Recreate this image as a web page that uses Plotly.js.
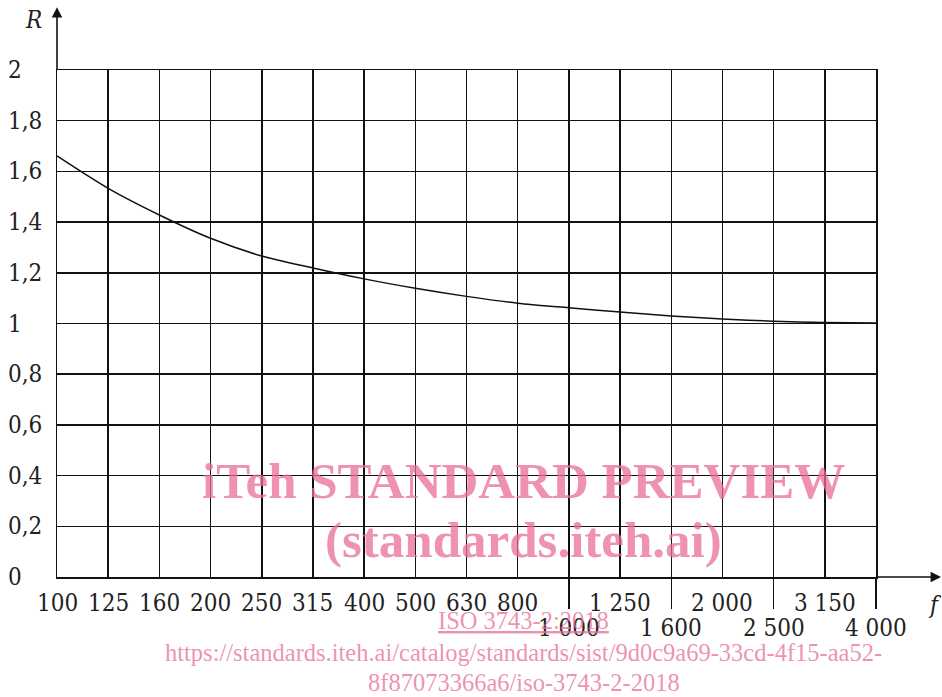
<!DOCTYPE html>
<html>
<head>
<meta charset="utf-8">
<script src="https://cdn.plot.ly/plotly-3.0.1.min.js"></script>
<style>html,body{margin:0;padding:0;background:#fff;}#chart{width:942px;height:697px;}</style>
</head>
<body>
<div id="chart"></div>
<script>
// Frequency bands (one-third octave), R values
const freqLabels = ['100','125','160','200','250','315','400','500','630','800','1 000','1 250','1 600','2 000','2 500','3 150','4 000'];
const lowerRowLabels = ['1 000','1 600','2 500','4 000'];
const rValues = [1.661, 1.533, 1.428, 1.336, 1.266, 1.219, 1.176, 1.139, 1.107, 1.080, 1.062, 1.045, 1.030, 1.018, 1.009, 1.004, 1.002];
const yTickValues = [0, 0.2, 0.4, 0.6, 0.8, 1, 1.2, 1.4, 1.6, 1.8, 2];
const yTickLabels = ['0','0,2','0,4','0,6','0,8','1','1,2','1,4','1,6','1,8','2'];
const xIndex = freqLabels.map((_, i) => i);

const FONT = 'DejaVu Serif Condensed, Liberation Serif, serif';
const FS = 24;
const PINK = 'rgba(232,110,150,0.75)';
const WFONT = 'Liberation Serif, serif';

const annotations = [];
// y tick labels (left aligned)
yTickValues.forEach((v, i) => {
  annotations.push({xref:'paper', yref:'y', x:-0.062, y:v, xanchor:'left', yanchor:'middle',
    text:yTickLabels[i], showarrow:false, font:{family:FONT, size:FS, color:'#222'}});
});
// x tick labels, staggered in two rows
freqLabels.forEach((lab, i) => {
  const lower = lowerRowLabels.includes(lab);
  annotations.push({xref:'x', yref:'paper', x:i, y: lower ? -0.1 : -0.051, xanchor:'center', yanchor:'middle',
    text:lab, showarrow:false, font:{family:FONT, size:FS, color:'#222'}});
});
// axis arrows
annotations.push({xref:'x', yref:'paper', x:0, y:1.124, axref:'pixel', ayref:'pixel', ax:0, ay:64,
  showarrow:true, arrowhead:2, arrowsize:1.3, arrowwidth:1.6, arrowcolor:'#111', text:''});
annotations.push({xref:'paper', yref:'y', x:1.082, y:0, ax:-68, ay:0,
  showarrow:true, arrowhead:2, arrowsize:1.3, arrowwidth:1.6, arrowcolor:'#111', text:''});
// axis titles
annotations.push({xref:'paper', yref:'paper', x:-0.029, y:1.098, xanchor:'center', yanchor:'middle',
  text:'<i>R</i>', showarrow:false, font:{family:FONT, size:FS, color:'#222'}});
annotations.push({xref:'paper', yref:'paper', x:1.072, y:-0.056, xanchor:'center', yanchor:'middle',
  text:'<i>f</i>', showarrow:false, font:{family:FONT, size:FS, color:'#222'}});
// watermark
annotations.push({xref:'paper', yref:'paper', x:0.570, y:0.190, xanchor:'center', yanchor:'middle',
  text:'<b>iTeh STANDARD PREVIEW</b>', showarrow:false, font:{family:WFONT, size:51, color:PINK}});
annotations.push({xref:'paper', yref:'paper', x:0.570, y:0.073, xanchor:'center', yanchor:'middle',
  text:'<b>(standards.iteh.ai)</b>', showarrow:false, font:{family:WFONT, size:51, color:PINK}});
annotations.push({xref:'paper', yref:'paper', x:0.570, y:-0.085, xanchor:'center', yanchor:'middle',
  text:'<u>ISO 3743-2:2018</u>', showarrow:false, font:{family:WFONT, size:24.5, color:PINK}});
annotations.push({xref:'paper', yref:'paper', x:0.570, y:-0.148, xanchor:'center', yanchor:'middle',
  text:'https://standards.iteh.ai/catalog/standards/sist/9d0c9a69-33cd-4f15-aa52-', showarrow:false, font:{family:WFONT, size:24.5, color:PINK}});
annotations.push({xref:'paper', yref:'paper', x:0.570, y:-0.209, xanchor:'center', yanchor:'middle',
  text:'8f87073366a6/iso-3743-2-2018', showarrow:false, font:{family:WFONT, size:24.5, color:PINK}});

const trace = {x:xIndex, y:rValues, type:'scatter', mode:'lines',
  line:{color:'#111', width:1.5, shape:'spline', smoothing:0.8}, hoverinfo:'skip'};

const layout = {
  width:942, height:697,
  margin:{l:57, r:66, t:70, b:120},
  paper_bgcolor:'#fff', plot_bgcolor:'#fff',
  showlegend:false,
  xaxis:{range:[0,16], tickmode:'array', tickvals:[10,12,14,16], ticks:'outside', ticklen:30, tickwidth:1.5, tickcolor:'#111',
    showticklabels:false, showgrid:true, gridcolor:'#111', gridwidth:1.5,
    minor:{tickvals:xIndex, showgrid:true, gridcolor:'#111', gridwidth:1.5, ticks:''},
    showline:true, mirror:true, linecolor:'#111', linewidth:1.5, zeroline:false, fixedrange:true},
  yaxis:{range:[0,2], tickmode:'array', tickvals:yTickValues, showticklabels:false, ticks:'', showgrid:true, gridcolor:'#111', gridwidth:1.5,
    showline:true, mirror:true, linecolor:'#111', linewidth:1.5, zeroline:false, fixedrange:true},
  annotations:annotations
};

Plotly.newPlot('chart', [trace], layout, {displayModeBar:false, staticPlot:true});
</script>
</body>
</html>
